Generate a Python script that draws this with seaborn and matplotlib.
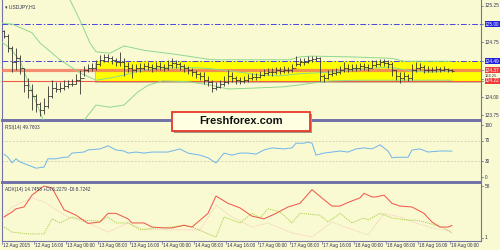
import numpy as np
import pandas as pd
import matplotlib
matplotlib.use("Agg")
import matplotlib.pyplot as plt
import seaborn as sns
from matplotlib.patches import Rectangle

# ---------------- data ----------------
time_ticks = [0, 8, 16, 24, 32, 40, 48, 56, 64, 72, 80, 88, 96, 104, 112]
time_labels = ["12 Aug 2015", "12 Aug 16:00", "13 Aug 00:00", "13 Aug 08:00", "13 Aug 16:00",
               "14 Aug 00:00", "14 Aug 08:00", "14 Aug 16:00", "17 Aug 00:00", "17 Aug 08:00",
               "17 Aug 16:00", "18 Aug 00:00", "18 Aug 08:00", "18 Aug 16:00", "19 Aug 00:00"]

bar_open = [124.904, 124.836, 124.671, 124.479, 124.534, 124.397, 124.164, 124.096, 124.014, 123.904,
            123.822, 123.877, 124.014, 124.123, 124.110, 124.123, 124.151, 124.178, 124.178, 124.233,
            124.260, 124.370, 124.397, 124.397, 124.452, 124.507, 124.548, 124.534, 124.507, 124.479,
            124.479, 124.425, 124.397, 124.370, 124.397, 124.397, 124.425, 124.411, 124.397, 124.425,
            124.411, 124.397, 124.438, 124.466, 124.452, 124.425, 124.397, 124.370, 124.342, 124.315,
            124.288, 124.233, 124.205, 124.123, 124.137, 124.178, 124.205, 124.288, 124.260, 124.233,
            124.219, 124.233, 124.260, 124.274, 124.274, 124.301, 124.329, 124.342, 124.342, 124.370,
            124.356, 124.370, 124.370, 124.397, 124.452, 124.479, 124.479, 124.507, 124.521, 124.534,
            124.288, 124.260, 124.315, 124.329, 124.342, 124.370, 124.397, 124.384, 124.397, 124.397,
            124.425, 124.411, 124.397, 124.438, 124.452, 124.479, 124.466, 124.452, 124.370, 124.288,
            124.260, 124.288, 124.260, 124.370, 124.397, 124.411, 124.370, 124.370, 124.370, 124.384,
            124.370, 124.384, 124.370]
bar_high = [124.918, 124.863, 124.699, 124.671, 124.575, 124.397, 124.260, 124.178, 124.041, 123.932,
            123.986, 124.151, 124.233, 124.205, 124.205, 124.233, 124.233, 124.247, 124.315, 124.370,
            124.425, 124.452, 124.466, 124.507, 124.575, 124.589, 124.589, 124.562, 124.534, 124.616,
            124.534, 124.479, 124.452, 124.452, 124.466, 124.466, 124.479, 124.452, 124.479, 124.479,
            124.452, 124.507, 124.534, 124.507, 124.479, 124.452, 124.425, 124.397, 124.370, 124.342,
            124.342, 124.288, 124.233, 124.205, 124.233, 124.288, 124.370, 124.342, 124.288, 124.274,
            124.288, 124.315, 124.329, 124.329, 124.356, 124.384, 124.397, 124.397, 124.411, 124.411,
            124.425, 124.411, 124.452, 124.562, 124.534, 124.534, 124.562, 124.562, 124.562, 124.548,
            124.315, 124.370, 124.384, 124.397, 124.425, 124.479, 124.452, 124.452, 124.452, 124.466,
            124.466, 124.452, 124.507, 124.507, 124.521, 124.521, 124.507, 124.479, 124.370, 124.342,
            124.342, 124.315, 124.452, 124.479, 124.466, 124.438, 124.425, 124.411, 124.425, 124.411,
            124.425, 124.397, 124.384]
bar_low = [124.808, 124.616, 124.342, 124.370, 124.315, 124.068, 123.986, 123.822, 123.795, 123.740,
           123.767, 123.849, 123.986, 124.068, 124.068, 124.096, 124.123, 124.151, 124.178, 124.041,
           124.288, 124.342, 124.356, 124.370, 124.425, 124.479, 124.479, 124.452, 124.425, 124.425,
           124.288, 124.342, 124.260, 124.342, 124.342, 124.370, 124.370, 124.342, 124.370, 124.370,
           124.356, 124.370, 124.397, 124.397, 124.370, 124.342, 124.315, 124.288, 124.260, 124.233,
           124.178, 124.151, 124.068, 124.096, 124.123, 124.151, 124.178, 124.205, 124.178, 124.178,
           124.192, 124.205, 124.233, 124.233, 124.260, 124.288, 124.301, 124.288, 124.315, 124.315,
           124.329, 124.329, 124.342, 124.425, 124.425, 124.438, 124.466, 124.479, 124.493, 124.219,
           124.205, 124.247, 124.288, 124.301, 124.315, 124.342, 124.342, 124.356, 124.356, 124.370,
           124.370, 124.356, 124.397, 124.411, 124.425, 124.425, 124.397, 124.288, 124.233, 124.192,
           124.233, 124.219, 124.233, 124.342, 124.370, 124.329, 124.342, 124.342, 124.342, 124.342,
           124.356, 124.342, 124.342]
bar_close = [124.836, 124.671, 124.479, 124.534, 124.397, 124.164, 124.096, 124.014, 123.904, 123.822,
             123.877, 124.014, 124.123, 124.110, 124.123, 124.151, 124.178, 124.178, 124.233, 124.260,
             124.370, 124.397, 124.397, 124.452, 124.507, 124.548, 124.534, 124.507, 124.479, 124.479,
             124.425, 124.397, 124.370, 124.397, 124.397, 124.425, 124.411, 124.397, 124.425, 124.411,
             124.397, 124.438, 124.466, 124.452, 124.425, 124.397, 124.370, 124.342, 124.315, 124.288,
             124.233, 124.205, 124.123, 124.137, 124.178, 124.205, 124.288, 124.260, 124.233, 124.219,
             124.233, 124.260, 124.274, 124.274, 124.301, 124.329, 124.342, 124.342, 124.370, 124.356,
             124.370, 124.370, 124.397, 124.452, 124.479, 124.479, 124.507, 124.521, 124.534, 124.288,
             124.260, 124.315, 124.329, 124.342, 124.370, 124.397, 124.384, 124.397, 124.397, 124.425,
             124.411, 124.397, 124.438, 124.452, 124.479, 124.466, 124.452, 124.370, 124.288, 124.260,
             124.288, 124.260, 124.370, 124.397, 124.411, 124.370, 124.370, 124.370, 124.384, 124.370,
             124.384, 124.370, 124.356]

bb_upper_x = [0, 10, 14, 16.5, 19, 21.5, 23, 26.5, 30, 35, 43.5, 52, 56, 64, 71.5, 74, 77, 86.5, 97, 100, 112]
bb_upper = [126.15, 125.74, 125.47, 125.33, 125.05, 124.74, 124.62, 124.60, 124.70, 124.64, 124.58,
            124.51, 124.51, 124.51, 124.51, 124.55, 124.56, 124.55, 124.53, 124.49, 124.49]
bb_mid_x = [-0.5, 2, 7, 9, 14, 19, 23, 26.5, 30, 34, 39, 49, 56.5, 64, 69, 74, 81.5, 89, 96.5, 101.5, 106.5, 112]
bb_mid = [125.01, 125.00, 124.88, 124.74, 124.51, 124.33, 124.23, 124.26, 124.30, 124.36, 124.40, 124.40,
          124.36, 124.30, 124.29, 124.32, 124.34, 124.38, 124.41, 124.36, 124.34, 124.36]
bb_lower_x = [-0.5, 1.5, 4, 6.5, 10, 14, 18, 20, 23, 26.5, 30, 33.5, 36, 39.5, 46, 52, 56, 61.5, 70, 73, 77,
              81.5, 89, 97, 112]
bb_lower = [124.75, 124.67, 124.50, 124.14, 123.66, 123.48, 123.58, 123.68, 123.89, 123.86, 123.89,
            124.07, 124.16, 124.22, 124.21, 124.16, 124.11, 124.12, 124.14, 124.16, 124.19, 124.22,
            124.23, 124.23, 124.23]

rsi_x = [0, 1, 2, 3, 4, 6, 8, 10, 11, 13, 15, 16, 17, 20, 21, 24, 26, 28, 30, 31, 33, 35, 37, 41, 44,
         46, 49, 51, 53, 55, 57, 59, 61, 63, 65, 67, 70, 72, 73, 75, 76, 77, 78, 80, 82, 84, 86, 88, 90,
         92, 94, 96, 97, 98, 101, 102, 104, 106, 109, 111, 112]
rsi_val = [44, 38, 27, 35, 29, 23, 17, 19, 35, 35, 38, 38, 46, 48, 52, 54, 60, 52, 50, 46, 48, 46, 48,
           48, 54, 46, 42, 37, 27, 46, 42, 46, 46, 44, 52, 56, 54, 56, 65, 65, 67, 65, 42, 46, 48, 50,
           48, 54, 56, 54, 62, 50, 37, 38, 38, 52, 54, 48, 50, 50, 49.76]

adx_x = [0, 2, 3, 5, 7, 10, 12, 15, 18, 21, 24, 26, 28, 31, 32, 35, 37, 40, 42, 45, 47, 51, 53, 56,
         59, 62, 65, 68, 71, 74, 77, 80, 82, 84, 86, 89, 90, 92, 93, 95, 97, 99, 102, 105, 107, 109,
         111, 112]
adx_val = [24, 29.5, 33, 35, 48, 58, 56, 32, 26, 17, 18.5, 28, 28, 22, 17.5, 17.5, 13, 12, 12, 15, 13,
           28, 47, 39, 34, 25, 22, 28, 35, 39, 54, 43, 36, 36, 40, 45, 50, 46, 46, 48, 39, 36, 35, 28,
           18.5, 13, 13, 14.75]
pdi_x = [0, 2, 6, 10, 12, 14, 17, 20, 24, 26, 28, 31, 34, 38, 42, 45, 47, 50, 53, 55, 59, 62, 64, 66,
         69, 72, 74, 79, 81, 84, 87, 90, 91, 94, 97, 101, 103, 106, 110, 112]
pdi_val = [13, 7.5, 5.5, 5.5, 22, 17.5, 24, 20.5, 19.5, 24, 17.5, 17.5, 10, 12, 13, 15, 13, 7.5, 2, 24,
           17.5, 28, 23, 33, 29.5, 17.5, 28, 26, 18.5, 28, 17.5, 23, 20.5, 28, 23, 20.5, 20.5, 17.5, 12,
           6.23]
mdi_x = [0, 2, 7, 10, 16, 21, 26, 31, 35, 41, 46, 49, 53, 57, 62, 66, 72, 77, 82, 86, 91, 95, 99, 103,
         107, 112]
mdi_val = [24, 35, 45, 40.5, 24, 17.5, 7.5, 17.5, 10, 10, 10, 10, 37, 24, 13, 17.5, 6.5, 2, 18.5, 12,
           4.3, 28, 24, 17.5, 12, 8.72]

price_ticks = [125.25, 125.00, 124.75, 124.49, 124.37, 124.25, 124.22, 124.00, 123.75]
level_blue = [125.00, 124.49]
level_main = 124.37
level_low = 124.22
zone_top, zone_bottom = 124.49, 124.22
rsi_ticks = [100, 70, 30, 0]
rsi_levels = [70, 30]
adx_ticks = [58, 1]

# ---------------- style ----------------
sns.set_theme(style="white")
plt.rcParams["font.family"] = ["Liberation Sans", "DejaVu Sans"]
BG = "#FAFAD2"
FRAME = "#7272A8"
TXT = "#303050"
FS = 3.4

fig = plt.figure(figsize=(5, 2.5), dpi=100, facecolor=BG)


def px_axes(x0, y0, x1, y1):
    return fig.add_axes([x0 / 500, 1 - y1 / 250, (x1 - x0) / 500, (y1 - y0) / 250])


ax = px_axes(2, 0, 481, 120)
ax_rsi = px_axes(2, 121, 481, 182)
ax_adx = px_axes(2, 183, 481, 241)

XL = (-0.5, 119.25)
for a in (ax, ax_rsi, ax_adx):
    a.set_facecolor(BG)
    a.set_xlim(*XL)
    a.set_xticks([])
    a.set_yticks([])
    for s in a.spines.values():
        s.set_color(FRAME)
        s.set_linewidth(0.8)
    a.spines["bottom"].set_linewidth(1.4)
    a.spines["top"].set_linewidth(1.4)
ax.spines["top"].set_visible(False)
ax_adx.spines["bottom"].set_linewidth(0.8)

ax.set_ylim(123.685, 125.329)
ax_rsi.set_ylim(-9.6, 107.7)
ax_adx.set_ylim(-2.3, 61.3)

# ---- main panel ----
idx = np.arange(len(bar_close))
ax.add_patch(Rectangle((22.75, zone_bottom - 0.025), XL[1] - 22.75, zone_top - zone_bottom,
                       facecolor="#A89C7C", edgecolor="none", alpha=0.6, zorder=1))
ax.add_patch(Rectangle((23.0, zone_bottom), XL[1] - 23.0, zone_top - zone_bottom,
                       facecolor="#FFFF00", edgecolor="none", zorder=2))
for lv in level_blue:
    ax.axhline(lv, color="#4646E0", lw=0.7, ls=(0, (6, 2, 1.5, 2)), zorder=3)
ax.axhline(level_main, color="#F2765E", lw=2.3, alpha=0.82, zorder=3)
ax.axhline(level_low, color="#F05848", lw=0.8, zorder=3)

bb = "#8ED88E"
sns.lineplot(x=bb_upper_x, y=bb_upper, ax=ax, color=bb, lw=0.7, zorder=4)
sns.lineplot(x=bb_mid_x, y=bb_mid, ax=ax, color=bb, lw=0.7, zorder=4)
sns.lineplot(x=bb_lower_x, y=bb_lower, ax=ax, color=bb, lw=0.7, zorder=4)

bar_col = "#3A3A32"
ax.vlines(idx, bar_low, bar_high, color=bar_col, lw=0.62, zorder=5)
ax.hlines(bar_open, idx - 0.45, idx, color=bar_col, lw=0.62, zorder=5)
ax.hlines(bar_close, idx, idx + 0.45, color=bar_col, lw=0.62, zorder=5)

ax.text(0.006, 0.965, "\u25BE USDJPY,H1", transform=ax.transAxes, fontsize=FS + 0.2,
        color=TXT, va="top", ha="left", family=["Liberation Sans", "DejaVu Sans"])

ytr = ax.get_yaxis_transform()
box_style = {125.00: "#2020E0", 124.49: "#2020E0", 124.37: "#F03A3A", 124.22: "#F03A3A"}
# the 124.25 label is squeezed between the two red boxes, as in the reference
label_pos = {124.25: 124.29}
label_fs = {124.25: 2.9}
for v in price_ticks:
    ax.plot([1.0, 1.0045], [v, v], transform=ytr, color=FRAME, lw=0.6, clip_on=False)
    kw = {}
    col = TXT
    z = 6
    if v in box_style:
        kw["bbox"] = dict(boxstyle="square,pad=0.12", fc=box_style[v], ec="none")
        col = "white"
        z = 8
    ax.text(1.0085, label_pos.get(v, v), f"{v:.2f}", transform=ytr, fontsize=label_fs.get(v, FS),
            color=col, va="center", ha="left", clip_on=False, zorder=z, **kw)

# ---- RSI panel ----
for lv in rsi_levels:
    ax_rsi.axhline(lv, color="#C8C8B0", lw=0.5, ls=(0, (3, 2)))
sns.lineplot(x=rsi_x, y=rsi_val, ax=ax_rsi, color="#6EB4EC", lw=0.7)
ax_rsi.text(0.006, 0.93, "RSI(14) 49.7603", transform=ax_rsi.transAxes, fontsize=FS,
            color=TXT, va="top", ha="left")
ytr = ax_rsi.get_yaxis_transform()
for v in rsi_ticks:
    ax_rsi.plot([1.0, 1.0045], [v, v], transform=ytr, color=FRAME, lw=0.6, clip_on=False)
    ax_rsi.text(1.0085, v, str(v), transform=ytr, fontsize=FS, color=TXT, va="center", ha="left")

# ---- ADX panel ----
sns.lineplot(x=mdi_x, y=mdi_val, ax=ax_adx, color="#F2C8BC", lw=0.7, ls=(0, (1, 1)))
sns.lineplot(x=pdi_x, y=pdi_val, ax=ax_adx, color="#AACF4A", lw=0.7, ls=(0, (1.2, 1)))
sns.lineplot(x=adx_x, y=adx_val, ax=ax_adx, color="#F05A4E", lw=0.75)
ax_adx.text(0.006, 0.93, "ADX(14) 14.7458 +DI:6.2279 -DI:8.7242", transform=ax_adx.transAxes,
            fontsize=FS, color=TXT, va="top", ha="left")
ytr = ax_adx.get_yaxis_transform()
for v in adx_ticks:
    ax_adx.plot([1.0, 1.0045], [v, v], transform=ytr, color=FRAME, lw=0.6, clip_on=False)
    ax_adx.text(1.0085, v, str(v), transform=ytr, fontsize=FS, color=TXT, va="center", ha="left")

xtr = ax_adx.get_xaxis_transform()
for t, lab in zip(time_ticks, time_labels):
    ax_adx.plot([t - 0.5, t - 0.5], [0, -0.05], transform=xtr, color=FRAME, lw=0.5, clip_on=False)
    ax_adx.text(t - 0.3, -0.035, lab, transform=xtr, fontsize=FS, color=TXT, va="top", ha="left",
                clip_on=False)

# ---- watermark box ----
fig.patches.append(Rectangle((174 / 500, 1 - 133 / 250), 138 / 500, 19 / 250, transform=fig.transFigure,
                             facecolor="#A09A80", edgecolor="none", zorder=9))
fig.patches.append(Rectangle((172 / 500, 1 - 131 / 250), 138 / 500, 19 / 250, transform=fig.transFigure,
                             facecolor="#FFFFE2", edgecolor="#E8382C", lw=1.3, zorder=10))
fig.text(241 / 500, 1 - 121.5 / 250, "Freshforex.com", fontsize=8.0, fontweight="bold",
         color="#111111", ha="center", va="center", zorder=11)

fig.savefig("out.png", dpi=100, facecolor=BG)
